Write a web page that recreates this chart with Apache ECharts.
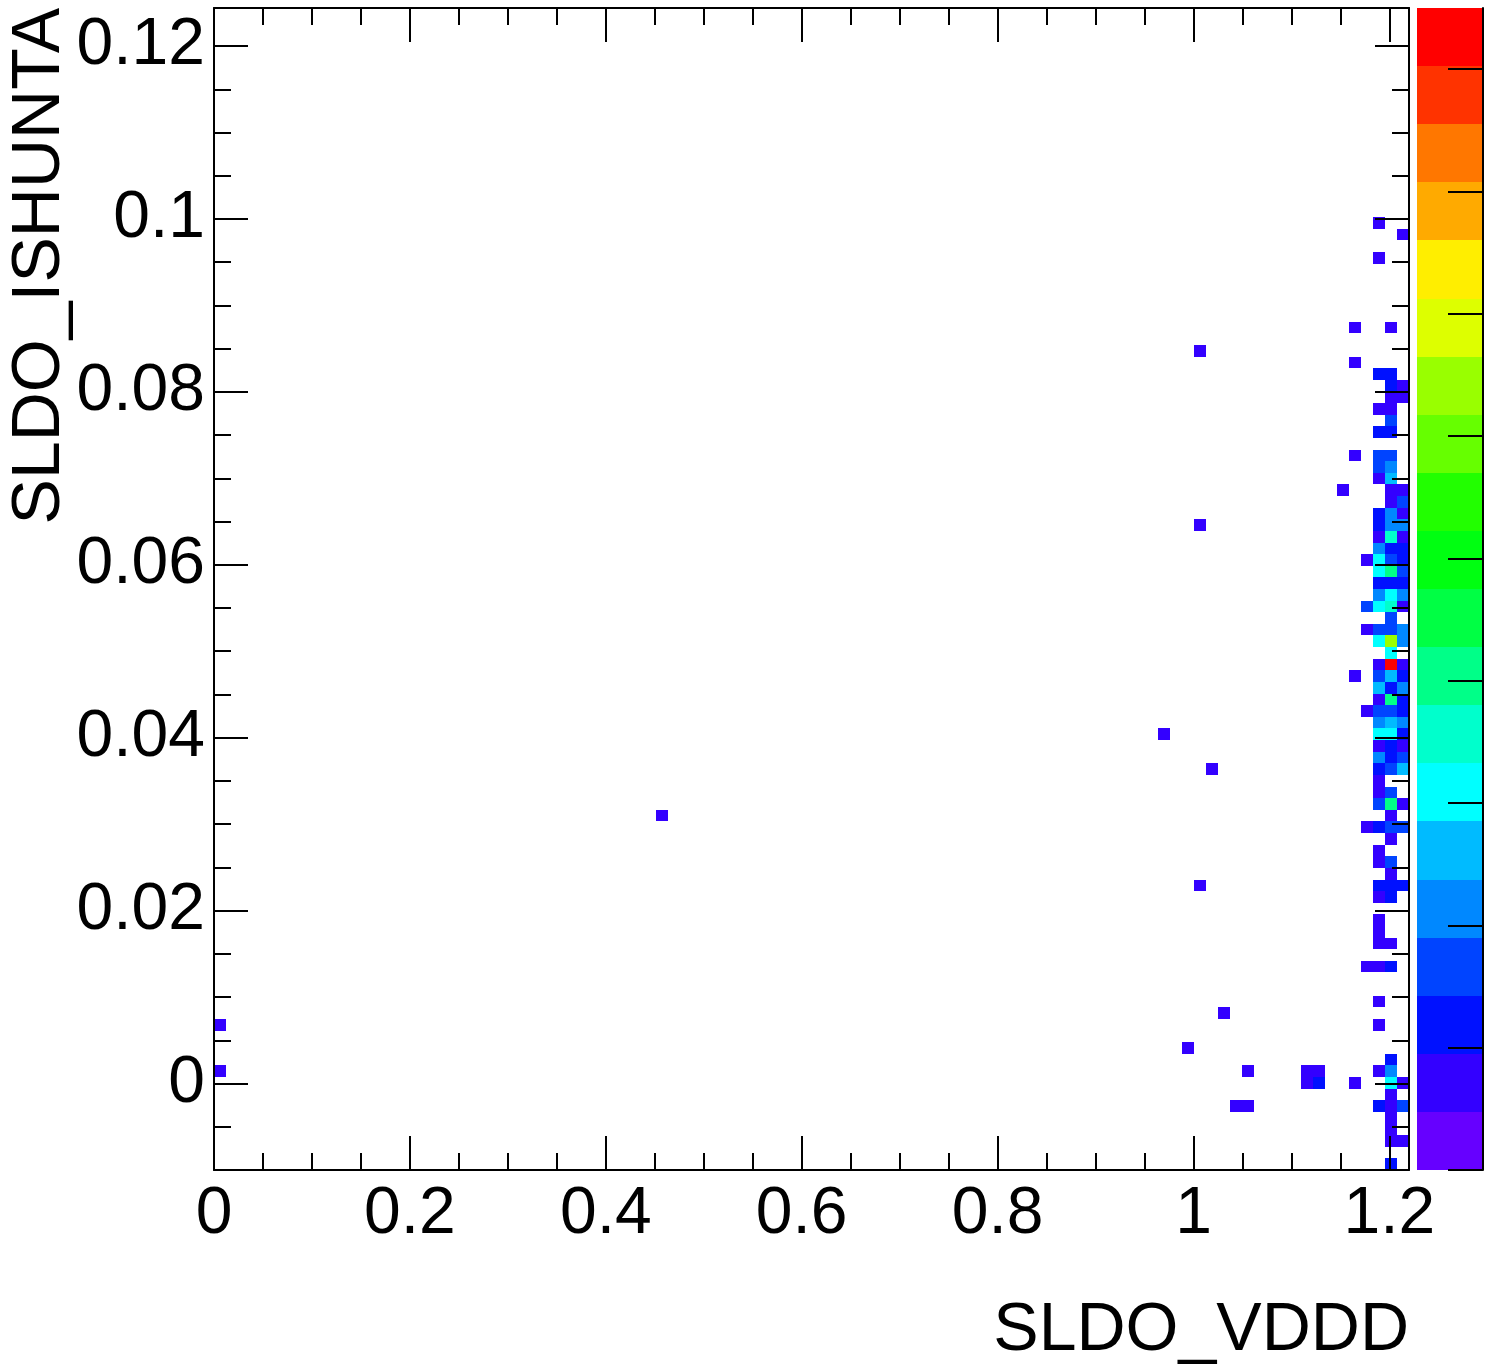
<!DOCTYPE html>
<html>
<head>
<meta charset="utf-8">
<script src="https://cdn.jsdelivr.net/npm/echarts@6/dist/echarts.min.js"></script>
<style>
html,body{margin:0;padding:0;background:#ffffff;}
#chart{width:1485px;height:1366px;}
</style>
</head>
<body>
<div id="chart"></div>
<script>
// ---- histogram definition (TH2, 100 x 100 bins) ----
const X_RANGE = [0, 1.22];
const NX = 100;
const Y_RANGE = [-0.01, 0.1244];
const NY = 100;
const Z_MAX = 19;

// ---- tick labels / tick values ----
const xMajorTicks = [0, 0.2, 0.4, 0.6, 0.8, 1, 1.2];
const xMinorTicks = [0.05, 0.1, 0.15, 0.25, 0.3, 0.35, 0.45, 0.5, 0.55, 0.65, 0.7, 0.75, 0.85, 0.9, 0.95, 1.05, 1.1, 1.15];
const yMajorTicks = [0, 0.02, 0.04, 0.06, 0.08, 0.1, 0.12];
const yMinorTicks = [-0.005, 0.005, 0.01, 0.015, 0.025, 0.03, 0.035, 0.045, 0.05, 0.055, 0.065, 0.07, 0.075, 0.085, 0.09, 0.095, 0.105, 0.11, 0.115];
const zTicks = [0, 2, 4, 6, 8, 10, 12, 14, 16, 18];

// ---- colour palette (20 contour levels, bottom to top) ----
const palette = ['#6600ff', '#3300ff', '#0011ff', '#0044ff', '#0088ff', '#00bbff', '#00ffff', '#00ffcc', '#00ff88', '#00ff44',
                 '#00ff11', '#22ff00', '#66ff00', '#99ff00', '#ddff00', '#ffee00', '#ffaa00', '#ff7700', '#ff3300', '#ff0000'];

// ---- isolated filled bins (x bin index, y bin index, entries) ----
const scatterXBin = [0, 0, 37, 79, 81, 82, 82, 82, 83, 84, 85, 86, 86, 91, 92, 91, 92];
const scatterYBin = [12, 8, 30, 37, 10, 70, 55, 24, 34, 13, 5, 5, 8, 8, 8, 7, 7];
const scatterCount = [1, 1, 1, 1, 1, 1, 1, 1, 1, 1, 1, 1, 1, 1, 1, 1, 2];

// ---- dense column near 1.2 V (x bin index, list of y bin indices, entries) ----
const denseXBin = [94, 95, 96, 97, 98, 99];
const denseYBins = [
  [58],
  [72, 69, 61, 42, 7],
  [52, 48, 46, 39, 29, 17],
  [81, 78, 68, 65, 63, 61, 60, 59, 56, 55, 54, 53, 52, 51, 50, 49, 48, 46, 45, 43, 42, 41, 40, 39, 38, 37, 36, 35, 34, 33, 32, 31, 29, 27, 26, 24, 23, 21, 20, 19, 17, 14, 12, 8, 5],
  [72, 68, 67, 66, 65, 64, 63, 61, 60, 59, 58, 57, 56, 55, 54, 53, 52, 51, 50, 49, 48, 47, 46, 45, 44, 43, 42, 41, 40, 39, 38, 37, 36, 35, 34, 32, 31, 30, 29, 28, 26, 25, 24, 23, 19, 17, 9, 8, 7, 6, 5, 4, 3, 2, 0],
  [80, 67, 66, 58, 57, 56, 55, 54, 53, 52, 51, 50, 49, 48, 46, 45, 43, 42, 41, 40, 39, 38, 37, 36, 35, 34, 31, 29, 24, 7, 5, 2]
];
const denseCounts = [
  [1],
  [1, 1, 1, 1, 1],
  [1, 3, 1, 1, 1, 1],
  [1, 1, 2, 1, 2, 3, 3, 1, 2, 2, 1, 4, 6, 6, 2, 4, 6, 3, 6, 1, 3, 5, 1, 3, 4, 6, 1, 4, 2, 1, 1, 3, 2, 1, 1, 2, 1, 1, 1, 1, 1, 1, 1, 1, 2],
  [1, 2, 2, 1, 1, 3, 2, 3, 4, 5, 1, 1, 4, 4, 7, 2, 3, 8, 2, 6, 7, 3, 3, 13, 6, 19, 5, 2, 8, 3, 5, 6, 2, 2, 3, 3, 8, 1, 3, 1, 3, 1, 2, 2, 1, 2, 2, 4, 6, 1, 1, 1, 1, 1, 2],
  [1, 1, 1, 1, 3, 1, 4, 1, 2, 2, 3, 2, 4, 1, 4, 4, 1, 2, 4, 2, 2, 4, 2, 1, 3, 5, 1, 3, 2, 1, 3, 1]
];

// ---- build data in axis units ----
const DX = (X_RANGE[1] - X_RANGE[0]) / NX;
const DY = (Y_RANGE[1] - Y_RANGE[0]) / NY;
const cells = [];
scatterXBin.forEach((ix, k) => {
  cells.push([X_RANGE[0] + ix * DX, Y_RANGE[0] + scatterYBin[k] * DY, scatterCount[k]]);
});
denseXBin.forEach((ix, c) => {
  denseYBins[c].forEach((iy, k) => {
    cells.push([X_RANGE[0] + ix * DX, Y_RANGE[0] + iy * DY, denseCounts[c][k]]);
  });
});
const levelStep = Z_MAX / palette.length;
const paletteLevels = palette.map((col, i) => [i * levelStep, (i + 1) * levelStep, i]);
const pieces = palette.map((col, i) => {
  const p = { gte: i * levelStep, color: col };
  if (i === palette.length - 1) p.lte = Z_MAX + 1; else p.lt = (i + 1) * levelStep;
  return p;
});

const FONT = 'Liberation Sans, Arial, Helvetica, sans-serif';
const BLACK = '#000000';
const LABEL_SIZE = 66;
const TITLE_SIZE = 68;

function tickAxis(dim, opts) {
  const base = {
    type: 'value',
    gridIndex: 0,
    min: dim === 'x' ? X_RANGE[0] : Y_RANGE[0],
    max: dim === 'x' ? X_RANGE[1] : Y_RANGE[1],
    position: opts.position,
    z: 10,
    splitLine: { show: false },
    axisLine: { show: !!opts.line, onZero: false, lineStyle: { color: BLACK, width: 2 } },
    axisTick: { show: true, inside: true, length: opts.len, customValues: opts.ticks, lineStyle: { color: BLACK, width: 2 } },
    axisLabel: { show: false }
  };
  if (opts.labels) {
    base.axisLabel = {
      show: true, customValues: opts.ticks, color: BLACK, fontSize: LABEL_SIZE, fontFamily: FONT,
      margin: opts.margin
    };
  }
  return base;
}

const chart = echarts.init(document.getElementById('chart'), null, { renderer: 'canvas' });
const option = {
  backgroundColor: '#ffffff',
  animation: false,
  grid: [
    { left: 214, top: 8, width: 1195, height: 1162 },
    { left: 1417, top: 8, width: 66, height: 1162 }
  ],
  xAxis: [
    tickAxis('x', { position: 'bottom', len: 34, ticks: xMajorTicks, line: true, labels: true, margin: 12 }),
    tickAxis('x', { position: 'bottom', len: 17, ticks: xMinorTicks }),
    tickAxis('x', { position: 'top', len: 34, ticks: xMajorTicks, line: true }),
    tickAxis('x', { position: 'top', len: 17, ticks: xMinorTicks }),
    { type: 'value', gridIndex: 1, min: 0, max: 1, show: false }
  ],
  yAxis: [
    tickAxis('y', { position: 'left', len: 34, ticks: yMajorTicks, line: true, labels: true, margin: 9 }),
    tickAxis('y', { position: 'left', len: 17, ticks: yMinorTicks }),
    tickAxis('y', { position: 'right', len: 34, ticks: yMajorTicks, line: true }),
    tickAxis('y', { position: 'right', len: 17, ticks: yMinorTicks }),
    {
      type: 'value', gridIndex: 1, min: 0, max: Z_MAX, position: 'right', z: 10,
      splitLine: { show: false },
      axisLine: { show: true, onZero: false, lineStyle: { color: BLACK, width: 2 } },
      axisTick: { show: true, inside: true, length: 35, customValues: zTicks, lineStyle: { color: BLACK, width: 2 } },
      axisLabel: { show: false }
    }
  ],
  visualMap: {
    type: 'piecewise', show: false, seriesIndex: 0, dimension: 2, pieces: pieces
  },
  series: [
    {
      type: 'custom',
      xAxisIndex: 0, yAxisIndex: 0,
      z: 2, clip: true,
      encode: { x: 0, y: 1 },
      data: cells,
      renderItem: function (params, api) {
        const x0 = api.value(0), y0 = api.value(1);
        const p0 = api.coord([x0, y0 + DY]);
        const p1 = api.coord([x0 + DX, y0]);
        const l = Math.round(p0[0]), t = Math.round(p0[1]);
        const r = Math.round(p1[0]), b = Math.round(p1[1]);
        return {
          type: 'rect',
          shape: { x: l, y: t, width: r - l, height: b - t },
          style: { fill: api.visual('color') }
        };
      }
    },
    {
      type: 'custom',
      xAxisIndex: 4, yAxisIndex: 4,
      z: 2,
      encode: { x: -1, y: [0, 1] },
      data: paletteLevels,
      renderItem: function (params, api) {
        const lo = api.value(0), hi = api.value(1), idx = api.value(2);
        const p0 = api.coord([0, hi]);
        const p1 = api.coord([1, lo]);
        const l = Math.round(p0[0]), t = Math.round(p0[1]);
        const r = Math.round(p1[0]), b = Math.round(p1[1]);
        return {
          type: 'rect',
          shape: { x: l, y: t, width: r - l, height: b - t },
          style: { fill: palette[idx] }
        };
      }
    }
  ],
  graphic: [
    {
      type: 'text', x: 1409, y: 1331, z: 20,
      style: { text: 'SLDO_VDDD', fill: BLACK, fontSize: TITLE_SIZE, fontFamily: FONT, align: 'right', verticalAlign: 'middle' }
    },
    {
      type: 'text', x: 40, y: 8, rotation: Math.PI / 2, z: 20,
      style: { text: 'SLDO_ISHUNTA', fill: BLACK, fontSize: TITLE_SIZE, fontFamily: FONT, align: 'right', verticalAlign: 'middle' }
    }
  ]
};
chart.setOption(option);
</script>
</body>
</html>
